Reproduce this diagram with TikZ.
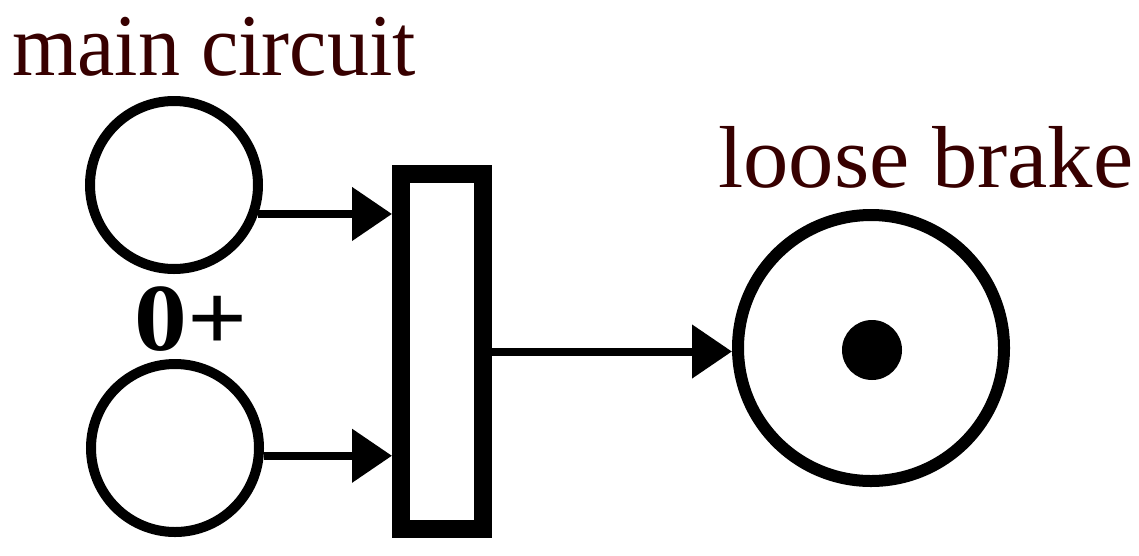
\documentclass[tikz,border=0pt]{standalone}
\usepackage{fontspec}
\usepackage{graphicx}
\setmainfont{Liberation Serif}
\usetikzlibrary{arrows.meta}
\definecolor{labelred}{RGB}{55,0,0}
\tikzset{
  place/.style={circle, draw=black, line width=10pt, minimum size=168pt, inner sep=0pt},
  bigplace/.style={circle, draw=black, line width=12pt, minimum size=266pt, inner sep=0pt},
  trans/.style={rectangle, draw=black, line width=18pt, minimum width=82pt, minimum height=355pt, inner sep=0pt, fill=white},
  token/.style={circle, fill=black, minimum size=60pt, inner sep=0pt},
  arc/.style={line width=8pt, -{Triangle[length=40pt,width=52pt]}},
  lbl/.style={inner sep=0pt, anchor=base west, text=labelred, font=\fontsize{88}{90}\selectfont},
}
\begin{document}
\begin{tikzpicture}[x=1pt,y=-1pt]
\useasboundingbox (0,0) rectangle (1139,555);
\node[lbl] (lmain) at (12,75) {\scalebox{0.955}[1]{main circuit}};
\node[lbl] (lbrake) at (718,187) {\scalebox{1.03}[1]{loose brake}};
\node[place] (p1) at (174,185) {};
\node[place] (p2) at (175,448) {};
\node[inner sep=0pt, font=\bfseries\fontsize{96}{98}\selectfont] (zp) at (191,319) {\scalebox{1.1}[1]{0+}};
\node[trans] (t) at (442,351.5) {};
\node[bigplace] (p3) at (871,348) {};
\node[token] (tok) at (872,350) {};
\draw[arc] (p1.-19.7) -- (p1.-19.7 -| t.west);
\draw[arc] (p2.-5.8) -- (p2.-5.8 -| t.west);
\draw[arc] (t.east) -- (t.east -| p3.west);
\end{tikzpicture}
\end{document}
